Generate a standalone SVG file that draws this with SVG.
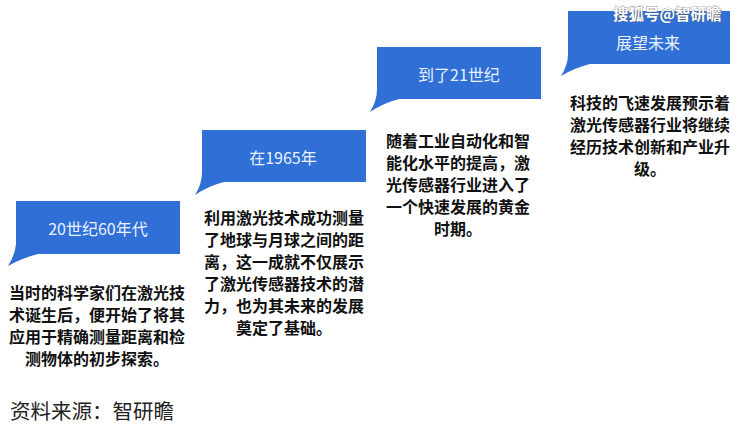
<svg xmlns="http://www.w3.org/2000/svg" width="738" height="430" viewBox="0 0 738 430">
<style>
.box{fill:#2f6fd6;}
.lbl{font-family:"Noto Sans CJK SC","Noto Sans",sans-serif;font-size:16px;fill:#eaf2ff;text-anchor:middle;dominant-baseline:central;}
.body{font-family:"Noto Sans CJK SC","Noto Sans",sans-serif;font-size:16px;font-weight:bold;fill:#111;text-anchor:middle;dominant-baseline:central;}
.src{font-family:"Noto Sans CJK SC","Noto Sans",sans-serif;font-size:20.5px;fill:#222;}
.wm{font-family:"Noto Sans CJK SC","Noto Sans",sans-serif;font-size:15.5px;font-weight:bold;fill:#fff;stroke:#555;stroke-width:0.6;paint-order:stroke;}
</style>
<rect width="738" height="430" fill="#fff"/>
<g id="stage1">
<path class="box" d="M16,201 H180 V254 H38 Q22,258 8,266 Q15,255 16,244 Z"/>
<text class="lbl" x="98" y="228">20世纪60年代</text>
<text class="body" x="97" y="292">当时的科学家们在激光技</text>
<text class="body" x="97" y="314">术诞生后，便开始了将其</text>
<text class="body" x="97" y="336">应用于精确测量距离和检</text>
<text class="body" x="97" y="358">测物体的初步探索。</text>
</g>
<g id="stage2">
<path class="box" d="M202,130 H366 V182 H224 Q208,186 195,195 Q202,184 202,172 Z"/>
<text class="lbl" x="283" y="157">在1965年</text>
<text class="body" x="284" y="217">利用激光技术成功测量</text>
<text class="body" x="284" y="239">了地球与月球之间的距</text>
<text class="body" x="284" y="261">离，这一成就不仅展示</text>
<text class="body" x="284" y="283">了激光传感器技术的潜</text>
<text class="body" x="284" y="305">力，也为其未来的发展</text>
<text class="body" x="284" y="327">奠定了基础。</text>
</g>
<g id="stage3">
<path class="box" d="M377,47 H541 V99 H399 Q383,103 370,112 Q377,101 377,89 Z"/>
<text class="lbl" x="459" y="74">到了21世纪</text>
<text class="body" x="458" y="140">随着工业自动化和智</text>
<text class="body" x="458" y="162">能化水平的提高，激</text>
<text class="body" x="458" y="184">光传感器行业进入了</text>
<text class="body" x="458" y="206">一个快速发展的黄金</text>
<text class="body" x="458" y="228">时期。</text>
</g>
<g id="stage4">
<path class="box" d="M568,11 H730 V64 H590 Q574,68 561,76 Q568,65 568,54 Z"/>
<text class="lbl" x="648" y="42">展望未来</text>
<text class="body" x="650" y="102">科技的飞速发展预示着</text>
<text class="body" x="650" y="124">激光传感器行业将继续</text>
<text class="body" x="650" y="146">经历技术创新和产业升</text>
<text class="body" x="650" y="168">级。</text>
</g>
<g id="connectors"></g>
<text class="wm" x="613" y="20">搜狐号@智研瞻</text>
<text class="src" x="10" y="419">资料来源：智研瞻</text>
</svg>
